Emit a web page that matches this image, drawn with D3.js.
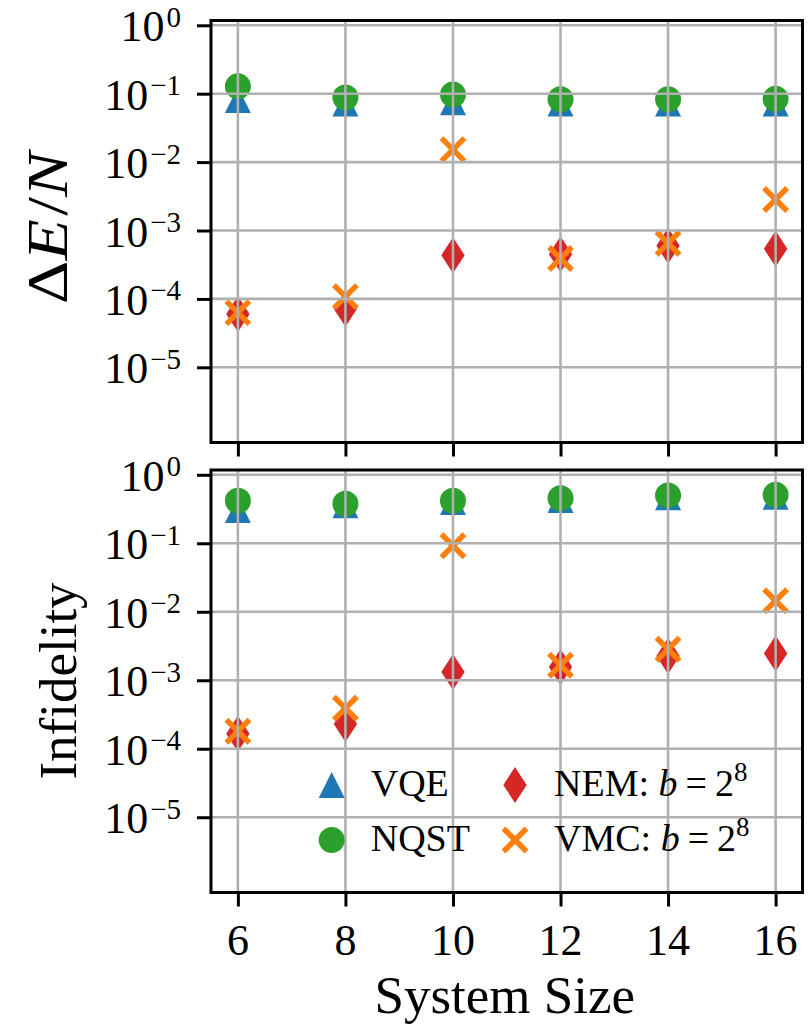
<!DOCTYPE html>
<html>
<head>
<meta charset="utf-8">
<script src="https://cdn.jsdelivr.net/npm/d3@7"></script>
<style>
  body { margin: 0; background: #fff; }
  text { font-family: "Liberation Serif", "DejaVu Serif", serif; fill: #000; }
</style>
</head>
<body>
<svg id="chart" width="808" height="1027"></svg>
<script>
var width = 808;
var height = 1027;

// system sizes on the x axis
var sizes = [6, 8, 10, 12, 14, 16];
var decades = [0, -1, -2, -3, -4, -5];

// energy error per site
var energyVQE = [0.081, 0.072, 0.075, 0.072, 0.072, 0.072];
var energyNQST = [0.128, 0.088, 0.097, 0.083, 0.083, 0.084];
var energyNEM = [6.0e-5, 7.2e-5, 4.35e-4, 4.5e-4, 6.0e-4, 5.4e-4];
var energyVMC = [6.3e-5, 1.08e-4, 0.0152, 3.9e-4, 6.5e-4, 2.84e-3];

// infidelity
var infidVQE = [0.305, 0.36, 0.40, 0.43, 0.47, 0.48];
var infidNQST = [0.417, 0.377, 0.417, 0.456, 0.50, 0.51];
var infidNEM = [1.66e-4, 2.3e-4, 1.32e-3, 1.56e-3, 2.26e-3, 2.45e-3];
var infidVMC = [1.8e-4, 3.9e-4, 0.092, 1.66e-3, 2.84e-3, 0.0145];

var seriesNames = ["VQE", "NQST", "NEM", "VMC"];
var colors = {VQE: "#1f77b4", NQST: "#2ca02c", NEM: "#d62728", VMC: "#ff7f0e"};

var svg = d3.select("#chart");

var left = 211, right = 802.5;

var xScale = d3.scaleLinear()
  .domain([5.5, 16.5])
  .range([left, right]);

// marker shapes (matplotlib-like sizes)
function markerPath(name) {
  if (name == "VQE") return "M0,-13L13,13L-13,13Z";
  if (name == "NEM") return "M0,-18L11.7,0L0,18L-11.7,0Z";
  return null;
}

function drawMarker(g, name, x, y) {
  if (name == "NQST") {
    g.append("circle").attr("cx", x).attr("cy", y).attr("r", 13)
      .attr("fill", colors[name]);
  } else if (name == "VMC") {
    var a = 11.5;
    g.append("path")
      .attr("d", "M" + (x - a) + "," + (y - a) + "L" + (x + a) + "," + (y + a) +
        "M" + (x - a) + "," + (y + a) + "L" + (x + a) + "," + (y - a))
      .attr("stroke", colors[name])
      .attr("stroke-width", 5.5)
      .attr("fill", "none");
  } else {
    g.append("path")
      .attr("d", markerPath(name))
      .attr("transform", "translate(" + x + "," + y + ")")
      .attr("fill", colors[name]);
  }
}

function drawPanel(top, bottom, data, label, showX) {
  var yScale = d3.scaleLog()
    .domain([Math.pow(10, -6.099), Math.pow(10, 0.070)])
    .range([bottom, top]);

  var g = svg.append("g");

  // markers
  var marks = g.append("g");
  seriesNames.forEach(function(name) {
    data[name].forEach(function(v, i) {
      drawMarker(marks, name, xScale(sizes[i]), yScale(v));
    });
  });

  // grid (drawn above the markers, as in the original)
  var grid = g.append("g");
  sizes.forEach(function(s) {
    grid.append("line")
      .attr("x1", xScale(s)).attr("x2", xScale(s))
      .attr("y1", top).attr("y2", bottom)
      .attr("stroke", "#b0b0b0").attr("stroke-width", 2.6);
  });
  decades.forEach(function(d) {
    grid.append("line")
      .attr("x1", left).attr("x2", right)
      .attr("y1", yScale(Math.pow(10, d))).attr("y2", yScale(Math.pow(10, d)))
      .attr("stroke", "#b0b0b0").attr("stroke-width", 2.6);
  });

  // axes with ticks only
  var yAxis = d3.axisLeft(yScale)
    .tickValues(decades.map(function(d) { return Math.pow(10, d); }))
    .tickSize(14)
    .tickFormat("");
  var ya = g.append("g").attr("transform", "translate(" + left + ",0)").call(yAxis);
  ya.select(".domain").remove();
  ya.selectAll(".tick line").attr("stroke", "#000").attr("stroke-width", 3);

  var xAxis = d3.axisBottom(xScale)
    .tickValues(sizes)
    .tickSize(14)
    .tickFormat("");
  var xa = g.append("g").attr("transform", "translate(0," + bottom + ")").call(xAxis);
  xa.select(".domain").remove();
  xa.selectAll(".tick line").attr("stroke", "#000").attr("stroke-width", 3);

  // y tick labels: 10^n
  decades.forEach(function(d) {
    var t = g.append("text")
      .attr("x", 181)
      .attr("y", yScale(Math.pow(10, d)) + 16)
      .attr("text-anchor", "end")
      .style("font-size", "44px");
    t.append("tspan").text("10");
    t.append("tspan")
      .attr("dy", -14.5)
      .attr("dx", 2)
      .style("font-size", "29px")
      .text(d == 0 ? "0" : "\u2212" + (-d));
  });

  if (showX) {
    sizes.forEach(function(s) {
      g.append("text")
        .attr("x", xScale(s))
        .attr("y", 955)
        .attr("text-anchor", "middle")
        .style("font-size", "44px")
        .text(s);
    });
  }

  // frame
  g.append("rect")
    .attr("x", left).attr("y", top)
    .attr("width", right - left).attr("height", bottom - top)
    .attr("fill", "none").attr("stroke", "#000").attr("stroke-width", 3);

  // y label
  var cy = (top + bottom) / 2;
  var yl = g.append("text")
    .attr("transform", "translate(66," + cy + ") rotate(-90)")
    .attr("text-anchor", "middle")
    .style("font-size", "52px");
  label(yl);

  return yScale;
}

drawPanel(20.5, 442.5,
  {VQE: energyVQE, NQST: energyNQST, NEM: energyNEM, VMC: energyVMC},
  function(t) {
    t.attr("transform", "translate(67,228) rotate(-90)")
      .style("font-size", "56px")
      .attr("textLength", 152)
      .attr("lengthAdjust", "spacingAndGlyphs");
    t.append("tspan").text("\u0394");
    t.append("tspan").style("font-style", "italic").text("E");
    t.append("tspan").attr("dx", 3).text("/");
    t.append("tspan").style("font-style", "italic").text("N");
  }, false);

drawPanel(470, 892.5,
  {VQE: infidVQE, NQST: infidNQST, NEM: infidNEM, VMC: infidVMC},
  function(t) {
    t.attr("transform", "translate(76,681) rotate(-90)")
      .style("font-size", "53px");
    t.text("Infidelity");
  }, true);

// x label
svg.append("text")
  .attr("x", (left + right) / 2 - 2)
  .attr("y", 1013)
  .attr("text-anchor", "middle")
  .style("font-size", "53px")
  .text("System Size");

// legend (no frame)
var legend = svg.append("g");
var legendItems = [
  {name: "VQE", col: 0, row: 0, text: "VQE"},
  {name: "NQST", col: 0, row: 1, text: "NQST"},
  {name: "NEM", col: 1, row: 0, text: "NEM: "},
  {name: "VMC", col: 1, row: 1, text: "VMC: "}
];
var colX = [331.7, 515];
var rowY = [785, 840];
legendItems.forEach(function(it) {
  var mx = colX[it.col], my = rowY[it.row];
  drawMarker(legend, it.name, mx, my);
  var t = legend.append("text")
    .attr("x", mx + 39)
    .attr("y", my + 11)
    .style("font-size", "38px");
  t.append("tspan").text(it.text);
  if (it.col == 1) {
    t.append("tspan").style("font-style", "italic").text("b");
    t.append("tspan").attr("dx", 8).text("=");
    t.append("tspan").attr("dx", 8).text("2");
    t.append("tspan").attr("dy", -15).style("font-size", "27px").text("8");
  }
});
</script>
</body>
</html>
